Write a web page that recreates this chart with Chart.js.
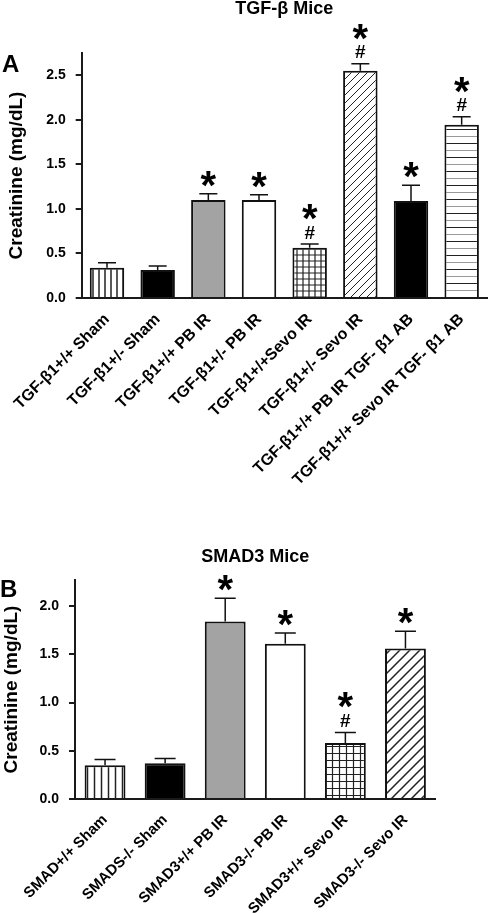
<!DOCTYPE html>
<html>
<head>
<meta charset="utf-8">
<script src="https://cdn.jsdelivr.net/npm/chart.js@4.4.1/dist/chart.umd.min.js"></script>
<style>
    body { margin: 0; background: #fff; }
    #graficoA { position: absolute; left: 0; top: 0; }
    #graficoB { position: absolute; left: 0; top: 540px; }
</style>
</head>
<body>
<canvas id="graficoA" width="488" height="490"></canvas>
<canvas id="graficoB" width="488" height="373"></canvas>
<script>
// Panel A: ratones TGF-β
var etiquetasTGF = ["TGF-β1+/+ Sham", "TGF-β1+/- Sham", "TGF-β1+/+ PB IR", "TGF-β1+/- PB IR",
    "TGF-β1+/+Sevo IR", "TGF-β1+/- Sevo IR", "TGF-β1+/+ PB IR TGF- β1 AB", "TGF-β1+/+ Sevo IR TGF- β1 AB"];
var mediasTGF = [0.34, 0.315, 1.10, 1.10, 0.565, 2.55, 1.09, 1.945];
var erroresTGF = [0.055, 0.045, 0.07, 0.06, 0.04, 0.08, 0.175, 0.09];
var marcasTGF = ["", "", "*", "*", "*#", "*#", "*", "*#"];
var ticksTGF = [0, 0.5, 1.0, 1.5, 2.0, 2.5];

// Panel B: ratones SMAD3
var etiquetasSMAD = ["SMAD+/+ Sham", "SMADS-/- Sham", "SMAD3+/+ PB IR", "SMAD3-/- PB IR",
    "SMAD3+/+ Sevo IR", "SMAD3-/- Sevo IR"];
var mediasSMAD = [0.35, 0.37, 1.84, 1.61, 0.58, 1.56];
var erroresSMAD = [0.06, 0.05, 0.24, 0.11, 0.11, 0.18];
var marcasSMAD = ["", "", "*", "*", "*#", "*"];
var ticksSMAD = [0, 0.5, 1.0, 1.5, 2.0];

var FUENTE = "'Liberation Sans', Arial, sans-serif";

/**
 * Crea una trama (rayas, rejilla...) para el relleno de las barras
 */
function creaTrama(ctx, tipo, paso, grosor) {
    var lienzo = document.createElement("canvas");
    var alto = tipo === "horizontal" ? paso * 2 : paso;
    lienzo.width = paso;
    lienzo.height = alto;
    var g = lienzo.getContext("2d");
    g.fillStyle = "#fff";
    g.fillRect(0, 0, paso, alto);
    g.strokeStyle = "#222";
    g.lineWidth = grosor;
    g.beginPath();
    if (tipo === "vertical") {
        g.moveTo(paso / 2, 0); g.lineTo(paso / 2, paso);
    } else if (tipo === "rejilla") {
        g.moveTo(paso / 2, 0); g.lineTo(paso / 2, paso);
        g.moveTo(0, paso / 2); g.lineTo(paso, paso / 2);
    } else if (tipo === "diagonal") {
        g.moveTo(-1, paso + 1); g.lineTo(paso + 1, -1);
        g.moveTo(-2, 2); g.lineTo(2, -2);
        g.moveTo(paso - 2, paso + 2); g.lineTo(paso + 2, paso - 2);
    }
    g.stroke();
    if (tipo === "horizontal") {
        g.strokeStyle = "#222";
        g.beginPath(); g.moveTo(0, paso / 2); g.lineTo(paso, paso / 2); g.stroke();
        g.strokeStyle = "#999";
        g.beginPath(); g.moveTo(0, paso * 1.5); g.lineTo(paso, paso * 1.5); g.stroke();
    }
    return ctx.createPattern(lienzo, "repeat");
}

/**
 * Plugin que dibuja las barras de error, los asteriscos, las almohadillas y la letra del panel
 */
var pluginErrores = {
    id: "errores",
    afterDatasetsDraw: function (chart, args, opts) {
        var ctx = chart.ctx;
        var medias = chart.data.datasets[0].data;
        var ejeY = chart.scales.y;
        ctx.save();
        chart.getDatasetMeta(0).data.forEach(function (barra, i) {
            var yBarra = ejeY.getPixelForValue(medias[i]);
            var yTope = ejeY.getPixelForValue(medias[i] + opts.errores[i]);
            ctx.strokeStyle = "#111";
            ctx.lineWidth = 1.5;
            ctx.beginPath();
            ctx.moveTo(barra.x, yBarra);
            ctx.lineTo(barra.x, yTope);
            ctx.moveTo(barra.x - opts.tapa / 2, yTope);
            ctx.lineTo(barra.x + opts.tapa / 2, yTope);
            ctx.stroke();

            var marca = opts.marcas[i];
            ctx.fillStyle = "#000";
            ctx.textAlign = "center";
            ctx.textBaseline = "alphabetic";
            var centro = yTope - 12;
            if (marca.indexOf("#") >= 0) {
                ctx.font = "bold 19px " + FUENTE;
                ctx.fillText("#", barra.x, yTope - 12 + 6.5);
                centro = yTope - 29;
            }
            if (marca.indexOf("*") >= 0) {
                ctx.font = "bold 40px " + FUENTE;
                ctx.fillText("*", barra.x, centro + 17);
            }
        });
        ctx.font = "bold 24px " + FUENTE;
        ctx.textAlign = "left";
        ctx.fillStyle = "#000";
        ctx.fillText(opts.letra, opts.letraX, opts.letraY);
        ctx.restore();
    }
};

/**
 * Configuración común de un panel de barras
 */
function configPanel(etiquetas, medias, colores, datos) {
    return {
        type: "bar",
        data: {
            labels: etiquetas,
            datasets: [{
                data: medias,
                backgroundColor: colores,
                borderColor: "#111",
                borderWidth: 2,
                barPercentage: 0.68,
                categoryPercentage: 1
            }]
        },
        plugins: [pluginErrores],
        options: {
            responsive: false,
            animation: false,
            layout: { padding: { left: 0, right: datos.derecha, top: 0, bottom: 0 } },
            plugins: {
                legend: { display: false },
                tooltip: { enabled: false },
                title: {
                    display: true,
                    text: datos.titulo,
                    fullSize: false,
                    color: "#000",
                    font: { family: FUENTE, size: 18, weight: "bold", lineHeight: 1 },
                    padding: datos.paddingTitulo
                },
                errores: {
                    errores: datos.errores,
                    marcas: datos.marcas,
                    tapa: datos.tapa,
                    letra: datos.letra,
                    letraX: datos.letraX,
                    letraY: datos.letraY
                }
            },
            scales: {
                x: {
                    grid: { display: false, drawTicks: false },
                    border: { display: true, color: "#1a1a1a", width: 2 },
                    afterFit: function (eje) { eje.height = datos.altoX; },
                    ticks: {
                        autoSkip: false,
                        minRotation: 45,
                        maxRotation: 45,
                        padding: 12,
                        color: "#000",
                        font: { family: FUENTE, size: datos.letraEje, weight: "bold" }
                    }
                },
                y: {
                    min: 0,
                    max: datos.maximo,
                    afterBuildTicks: function (eje) {
                        eje.ticks = datos.ticks.map(function (v) { return { value: v }; });
                    },
                    afterFit: function (eje) { eje.width = datos.anchoY; },
                    grid: { drawOnChartArea: false, tickLength: 6, color: "#1a1a1a", lineWidth: 2 },
                    border: { color: "#1a1a1a", width: 2 },
                    ticks: {
                        padding: 10,
                        color: "#000",
                        font: { family: FUENTE, size: 14, weight: "bold" },
                        callback: function (v) { return Number(v).toFixed(1); }
                    },
                    title: {
                        display: true,
                        text: "Creatinine (mg/dL)",
                        color: "#000",
                        padding: 0,
                        font: { family: FUENTE, size: 19, weight: "bold" }
                    }
                }
            }
        }
    };
}

function cargaGraficoTGF() {
    var ctx = document.getElementById("graficoA").getContext("2d");
    var colores = [
        creaTrama(ctx, "vertical", 6, 1.5), "#000", "#a3a3a3", "#fff",
        creaTrama(ctx, "rejilla", 6, 1.2), creaTrama(ctx, "diagonal", 8, 1),
        "#000", creaTrama(ctx, "horizontal", 7, 1)
    ];
    new Chart(ctx, configPanel(etiquetasTGF, mediasTGF, colores, {
        titulo: "TGF-β Mice",
        paddingTitulo: { top: 0, bottom: 35 },
        errores: erroresTGF, marcas: marcasTGF, ticks: ticksTGF,
        maximo: 2.75, tapa: 18, anchoY: 76, altoX: 192, derecha: 1, letraEje: 16,
        letra: "A", letraX: 2, letraY: 72
    }));
}

function cargaGraficoSMAD() {
    var ctx = document.getElementById("graficoB").getContext("2d");
    var colores = [
        creaTrama(ctx, "vertical", 7, 1.5), "#000", "#a3a3a3", "#fff",
        creaTrama(ctx, "rejilla", 7, 1.2), creaTrama(ctx, "diagonal", 10, 1.5)
    ];
    new Chart(ctx, configPanel(etiquetasSMAD, mediasSMAD, colores, {
        titulo: "SMAD3 Mice",
        paddingTitulo: { top: 8, bottom: 14 },
        errores: erroresSMAD, marcas: marcasSMAD, ticks: ticksSMAD,
        maximo: 2.27, tapa: 21, anchoY: 75, altoX: 114, derecha: 52.5, letraEje: 15,
        letra: "B", letraX: 0, letraY: 57
    }));
}

cargaGraficoTGF();
cargaGraficoSMAD();
</script>
</body>
</html>
